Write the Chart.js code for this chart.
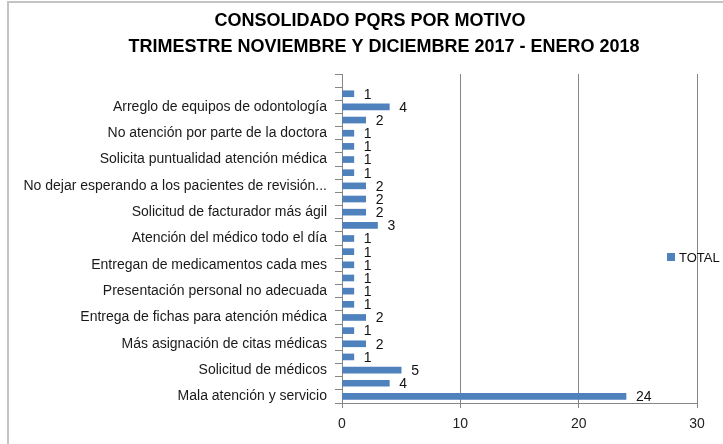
<!DOCTYPE html>
<html>
<head>
<meta charset="utf-8">
<script src="https://cdn.jsdelivr.net/npm/chart.js@4"></script>
<style>
  html, body { margin: 0; padding: 0; background: #fff; }
  #wrap { width: 723px; height: 444px; }
</style>
</head>
<body>
<div id="wrap"><canvas id="pqrs-chart" width="723" height="444"></canvas></div>
<script>
// Chart data (top to bottom, as shown in the picture)
const titleLines = ['CONSOLIDADO PQRS POR MOTIVO', 'TRIMESTRE NOVIEMBRE Y DICIEMBRE 2017 - ENERO 2018'];
const seriesName = 'TOTAL';
const categories = [
    '',
    '', 'Arreglo de equipos de odontología',
    '', 'No atención por parte de la doctora',
    '', 'Solicita puntualidad atención médica',
    '', 'No dejar esperando a los pacientes de revisión...',
    '', 'Solicitud de facturador más ágil',
    '', 'Atención del médico todo el día',
    '', 'Entregan de medicamentos cada mes',
    '', 'Presentación personal no adecuada',
    '', 'Entrega de fichas para atención médica',
    '', 'Más asignación de citas médicas',
    '', 'Solicitud de médicos',
    '', 'Mala atención y servicio'
];
// the top row is empty in the picture
const totals = [null, 1, 4, 2, 1, 1, 1, 1, 2, 2, 2, 3, 1, 1, 1, 1, 1, 1, 2, 1, 2, 1, 5, 4, 24];
const xTicks = [0, 10, 20, 30];

const barColor = '#4F81BD';
const axisColor = '#868686';
const textFont = '"Liberation Sans", Arial, sans-serif';

// frame, title, value labels and legend
const decorations = {
    id: 'decorations',
    beforeDraw(chart) {
        const ctx = chart.ctx;
        ctx.save();
        ctx.fillStyle = '#fff';
        ctx.fillRect(0, 0, chart.width, chart.height);
        ctx.strokeStyle = '#c4c4c4';
        ctx.lineWidth = 2;
        ctx.beginPath();
        ctx.moveTo(8, chart.height);
        ctx.lineTo(8, 2);
        ctx.lineTo(chart.width, 2);
        ctx.stroke();
        ctx.restore();
    },
    afterDatasetsDraw(chart) {
        const ctx = chart.ctx;
        ctx.save();
        ctx.fillStyle = '#111';
        ctx.font = '14px ' + textFont;
        ctx.textBaseline = 'middle';
        ctx.textAlign = 'left';
        chart.getDatasetMeta(0).data.forEach((bar, i) => {
            if (totals[i] == null) return;
            ctx.fillText(String(totals[i]), bar.x + 10, bar.y + 1);
        });

        // title
        ctx.font = 'bold 18px ' + textFont;
        ctx.textAlign = 'center';
        ctx.fillStyle = '#000';
        ctx.fillText(titleLines[0], 370, 21);
        ctx.fillText(titleLines[1], 384, 47);

        // legend
        ctx.fillStyle = barColor;
        ctx.fillRect(667, 253, 8, 8);
        ctx.fillStyle = '#111';
        ctx.font = '13px ' + textFont;
        ctx.textAlign = 'left';
        ctx.fillText(seriesName, 679, 258);
        ctx.restore();
    }
};

const ctx = document.getElementById('pqrs-chart').getContext('2d');
new Chart(ctx, {
    type: 'bar',
    data: {
        labels: categories,
        datasets: [{
            label: seriesName,
            data: totals,
            backgroundColor: barColor,
            barThickness: 6
        }]
    },
    options: {
        indexAxis: 'y',
        responsive: false,
        animation: false,
        layout: { padding: { top: 74, right: 26, bottom: 0, left: 0 } },
        plugins: {
            legend: { display: false },
            title: { display: false },
            tooltip: { enabled: false }
        },
        scales: {
            x: {
                min: 0,
                max: 30,
                afterBuildTicks(scale) {
                    scale.ticks = xTicks.map(v => ({ value: v }));
                },
                afterFit(scale) { scale.height = 41; },
                grid: { color: axisColor, tickLength: 5 },
                border: { color: axisColor },
                ticks: { color: '#222', padding: 8, font: { size: 14, family: textFont } }
            },
            y: {
                afterFit(scale) { scale.width = 342; },
                grid: { drawOnChartArea: false, color: axisColor, tickLength: 7, offset: true },
                border: { color: axisColor },
                ticks: {
                    autoSkip: false,
                    color: '#1a1a1a',
                    padding: 8,
                    font: { size: 14, family: textFont }
                }
            }
        }
    },
    plugins: [decorations]
});
</script>
</body>
</html>
